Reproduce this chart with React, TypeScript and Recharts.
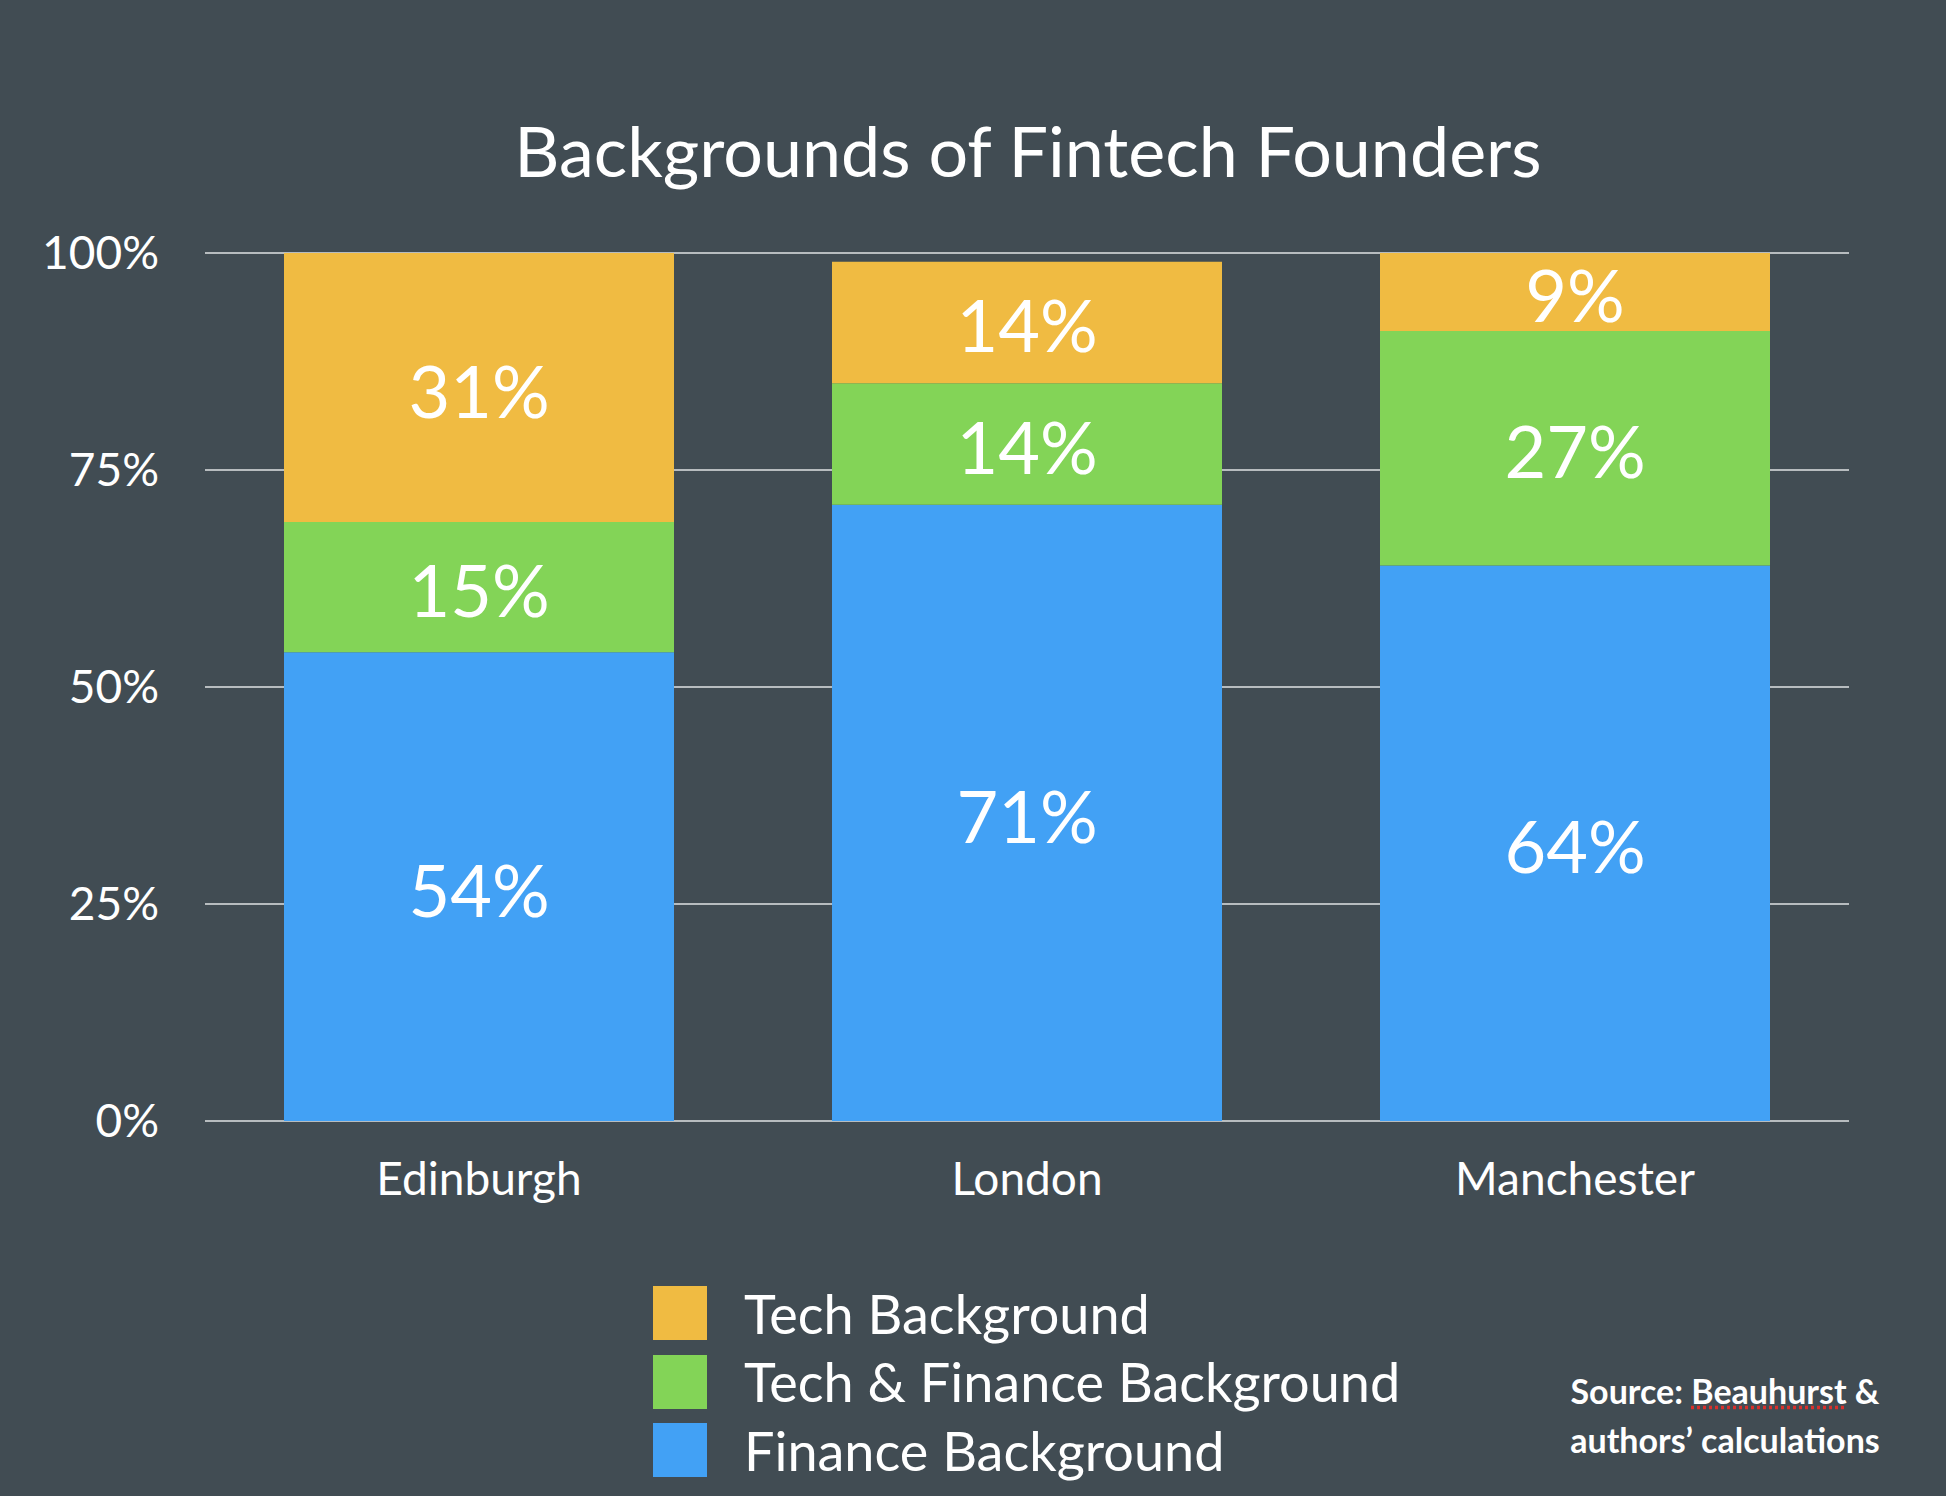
import React from 'react';
import { BarChart, Bar, XAxis, YAxis, CartesianGrid, Legend, LabelList } from 'recharts';

const cities = ['Edinburgh', 'London', 'Manchester'];
const financeValues = [54, 71, 64];
const techFinanceValues = [15, 14, 27];
const techValues = [31, 14, 9];
const yTicks = [0, 25, 50, 75, 100];

const FONT = 'Lato, "Open Sans", sans-serif';
const BG = '#414c53';

const series = [
  { key: 'tech', name: 'Tech Background', color: '#f0bb42' },
  { key: 'techFinance', name: 'Tech & Finance Background', color: '#83d457' },
  { key: 'finance', name: 'Finance Background', color: '#42a1f5' },
];

const chartData = cities.map((city, i) => ({
  city,
  finance: financeValues[i],
  techFinance: techFinanceValues[i],
  tech: techValues[i],
}));

const YTick = ({ x, y, payload }: any) => (
  <text x={x} y={y} dy={16} textAnchor="end" fill="#fff" fontSize={46} fontFamily={FONT}>
    {payload.value}%
  </text>
);

const XTick = ({ x, y, payload }: any) => (
  <text x={x} y={y} dy={66} textAnchor="middle" fill="#fff" fontSize={46} fontFamily={FONT}>
    {payload.value}
  </text>
);

// legend drawn top to bottom: tech, tech & finance, finance
const LegendContent = () => (
  <div style={{ fontFamily: FONT }}>
    {series.map((s) => (
      <div key={s.key} style={{ display: 'flex', alignItems: 'center', height: 68.5 }}>
        <div style={{ width: 54, height: 54, background: s.color, marginRight: 37 }} />
        <span style={{ color: '#fff', fontSize: 54 }}>{s.name}</span>
      </div>
    ))}
  </div>
);

const renderLabel = (props: any) => {
  const { x, y, width, height, value } = props;
  return (
    <text
      x={x + width / 2}
      y={y + height / 2}
      dy={30}
      textAnchor="middle"
      fill="#fff"
      fontSize={72}
      fontFamily={FONT}
    >
      {value}%
    </text>
  );
};

export default function App() {
  return (
    <div style={{ position: 'fixed', left: 0, top: 0, width: 1946, height: 1496, background: BG }}>
      <div
        style={{
          position: 'absolute',
          top: 108,
          left: 0,
          width: 2056,
          textAlign: 'center',
          color: '#fff',
          fontFamily: FONT,
          fontSize: 70,
        }}
      >
        Backgrounds of Fintech Founders
      </div>
      <BarChart
        width={1946}
        height={1496}
        data={chartData}
        margin={{ top: 253, right: 97, left: 0, bottom: 0 }}
        barSize={390}
      >
        <CartesianGrid vertical={false} stroke="#b7bcbf" strokeWidth={2} />
        <YAxis
          domain={[0, 100]}
          ticks={yTicks}
          width={205}
          axisLine={false}
          tickLine={false}
          tickMargin={40}
          tick={<YTick />}
        />
        <XAxis dataKey="city" height={375} axisLine={false} tickLine={false} tick={<XTick />} />
        <Bar dataKey="finance" stackId="a" fill={series[2].color} isAnimationActive={false}>
          <LabelList dataKey="finance" content={renderLabel} />
        </Bar>
        <Bar dataKey="techFinance" stackId="a" fill={series[1].color} isAnimationActive={false}>
          <LabelList dataKey="techFinance" content={renderLabel} />
        </Bar>
        <Bar dataKey="tech" stackId="a" fill={series[0].color} isAnimationActive={false}>
          <LabelList dataKey="tech" content={renderLabel} />
        </Bar>
        <Legend
          layout="horizontal"
          align="center"
          verticalAlign="middle"
          content={<LegendContent />}
          wrapperStyle={{ position: 'absolute', left: 653, top: 1279, width: 900, bottom: 'auto' }}
        />
      </BarChart>
      <div
        style={{
          position: 'absolute',
          left: 1525,
          top: 1366,
          width: 400,
          textAlign: 'center',
          color: '#fff',
          fontFamily: FONT,
          fontWeight: 700,
          fontSize: 34,
          lineHeight: '49px',
        }}
      >
        Source:{' '}
        <span style={{ textDecoration: 'underline dotted #d9302c' }}>Beauhurst</span> &amp;
        <br />
        authors’ calculations
      </div>
    </div>
  );
}
